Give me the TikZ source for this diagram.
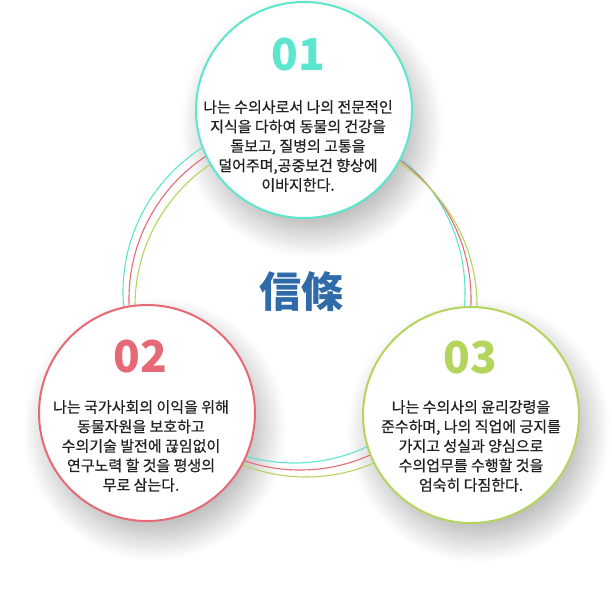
\documentclass[tikz,border=0pt]{standalone}
\usepackage{fontspec}
\newfontfamily\krfont{Noto Sans CJK KR}
\newfontfamily\krbody{Noto Sans CJK KR}[FakeBold=0.6]
\usetikzlibrary{shadows.blur}

\definecolor{oathcyan}{HTML}{5CE6CD}
\definecolor{oathred}{HTML}{E66A76}
\definecolor{oathgreen}{HTML}{B4D55C}
\definecolor{oathblue}{HTML}{2F6BA8}

\tikzset{
  oath/.style={circle, minimum size=216pt, inner sep=0pt, line width=2pt, fill=white},
  oathshadow/.style={circle, minimum size=212pt, inner sep=0pt, fill=white,
    blur shadow={shadow xshift=8pt, shadow yshift=-16pt, shadow blur radius=26pt,
      shadow blur steps=24, shadow opacity=32}},
  ring/.style={line width=1.1pt},
  num/.style={font=\krfont\bfseries\fontsize{44}{44}\selectfont},
  body/.style={font=\krbody\fontsize{15}{19.5}\selectfont, align=center, text=black!87},
}

\begin{document}
\begin{tikzpicture}[x=1pt,y=-1pt]
    \useasboundingbox (0,0) rectangle (612,588);

    % shadows under the three circles
    \foreach \p in {(304,110),(147,413),(471,415)} {
        \node[oathshadow] at \p {};
    }

    % the three rings
    \draw[ring, oathcyan]  (294,292) circle[radius=171pt];
    \draw[ring, oathred]   (300,299) circle[radius=171pt];
    \draw[ring, oathgreen] (306,306) circle[radius=171pt];

    \node[text=oathblue, font=\krfont\bfseries\fontsize{42}{42}\selectfont] (title) at (301,292) {信條};

    % 01
    \node[oath, draw=oathcyan] (c1) at (304,110) {};
    \node[num, text=oathcyan] (n1) at (298,55) {01};
    \node[body] (t1) at (298,146) {나는 수의사로서 나의 전문적인\\지식을 다하여 동물의 건강을\\돌보고, 질병의 고통을\\덜어주며,공중보건 향상에\\이바지한다.};

    % 02
    \node[oath, draw=oathred] (c2) at (147,413) {};
    \node[num, text=oathred] (n2) at (140,357) {02};
    \node[body] (t2) at (141,446) {나는 국가사회의 이익을 위해\\동물자원을 보호하고\\수의기술 발전에 끊임없이\\연구노력 할 것을 평생의\\무로 삼는다.};

    % 03
    \node[oath, draw=oathgreen] (c3) at (471,415) {};
    \node[num, text=oathgreen] (n3) at (470,358) {03};
    \node[body] (t3) at (471,446) {나는 수의사의 윤리강령을\\준수하며, 나의 직업에 긍지를\\가지고 성실과 양심으로\\수의업무를 수행할 것을\\엄숙히 다짐한다.};
\end{tikzpicture}
\end{document}
